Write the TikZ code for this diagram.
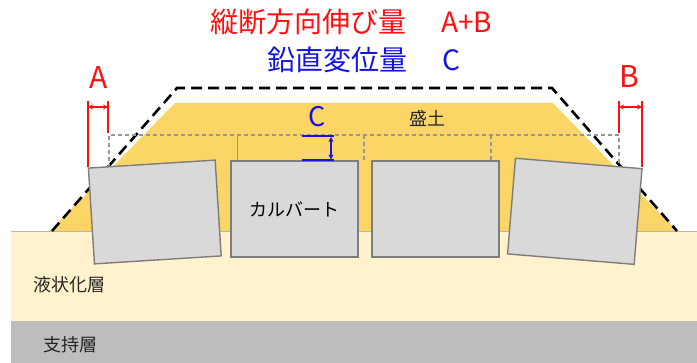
\documentclass[tikz,border=0pt]{standalone}
\usepackage{fontspec}
\setmainfont{Noto Sans CJK JP}
\usetikzlibrary{arrows.meta}
\definecolor{embankcol}{RGB}{251,213,102}
\definecolor{liqcol}{RGB}{255,242,205}
\definecolor{bearcol}{RGB}{189,189,189}
\definecolor{boxfill}{RGB}{217,217,217}
\definecolor{boxline}{RGB}{125,125,125}
\definecolor{dimred}{RGB}{255,16,16}
\definecolor{dimblue}{RGB}{20,20,225}
\definecolor{ghostcol}{RGB}{150,150,150}
\tikzset{
  culvert/.style={draw=boxline, fill=boxfill, line width=1.4pt, inner sep=0pt,
    minimum width=127pt, minimum height=96pt, font=\fontsize{18}{20}\selectfont},
  origline/.style={line width=2.6pt, dash pattern=on 11pt off 6pt},
  ghost/.style={draw=ghostcol, line width=1.1pt, dash pattern=on 4pt off 3pt},
  redline/.style={draw=dimred, line width=2pt},
  bluline/.style={draw=dimblue, line width=2pt},
  dimarrow/.style={line width=1.4pt, {Stealth[length=5pt,width=5pt]}-{Stealth[length=5pt,width=5pt]}},
  soiltext/.style={font=\fontsize{18}{20}\selectfont, text=black!85},
  bigletter/.style={font=\fontsize{30}{32}\selectfont, inner sep=0pt},
  titletext/.style={font=\fontsize{28}{30}\selectfont, inner sep=0pt, anchor=west}
}
\begin{document}
\begin{tikzpicture}[x=1pt, y=-1pt]
\useasboundingbox (0,0) rectangle (697,363);
\fill[white] (0,0) rectangle (697,363);

% ground layers
\fill[liqcol] (11,231) rectangle (697,321);
\draw[ghostcol!70, line width=0.7pt] (11,231) -- (697,231);
\fill[bearcol] (11,321) rectangle (697,363);

% embankment after settlement
\fill[embankcol] (50,231) -- (175,103) -- (553,103) -- (677,231) -- cycle;

% embankment profile before deformation
\draw[origline] (52,231) -- (177,88) -- (552,88) -- (677,231);

% culvert outline before deformation
\draw[ghost] (109,168) -- (109,135) -- (619,135) -- (619,164);
\draw[ghost] (364,135) -- (364,161);
\draw[ghost] (491,135) -- (491,161);
\draw[draw=ghostcol, line width=1pt] (237,135) -- (237,161);

% culverts after deformation
\node[culvert, rotate=3.6] (box1) at (154.8,212) {};
\node[culvert] (box2) at (294.5,209) {カルバート};
\node[culvert] (box3) at (435.5,209) {};
\node[culvert, rotate=-4.7] (box4) at (574.8,211.3) {};

% labels
\node[soiltext] (fill) at (427,118) {盛土};
\node[soiltext] (liq) at (70,285) {液状化層};
\node[soiltext] (bear) at (70,345) {支持層};

% longitudinal extension A
\coordinate (aL) at (88,101);
\coordinate (aLb) at (88,167);
\coordinate (aR) at (108,101);
\coordinate (aRb) at (108,133);
\draw[redline] (aL) -- (aLb);
\draw[redline] (aR) -- (aRb);
\coordinate (aA1) at (88,107);
\coordinate (aA2) at (108,107);
\draw[dimarrow, dimred] (aA1) -- (aA2);
\node[bigletter, text=dimred] (labA) at (99,78) {A};

% longitudinal extension B
\coordinate (bL) at (619,101);
\coordinate (bLb) at (619,133);
\coordinate (bR) at (642,101);
\coordinate (bRb) at (642,167);
\draw[redline] (bL) -- (bLb);
\draw[redline] (bR) -- (bRb);
\coordinate (bA1) at (619,107);
\coordinate (bA2) at (642,107);
\draw[dimarrow, dimred] (bA1) -- (bA2);
\node[bigletter, text=dimred] (labB) at (629,77) {B};

% vertical displacement C
\coordinate (cT1) at (302,136);
\coordinate (cT2) at (334,136);
\coordinate (cB1) at (302,160);
\coordinate (cB2) at (334,160);
\draw[bluline] (cT1) -- (cT2);
\draw[draw=dimblue, line width=1.2pt] (cB1) -- (cB2);
\coordinate (cA1) at (331,137);
\coordinate (cA2) at (331,159.5);
\draw[dimarrow, dimblue, line width=1.2pt] (cA1) -- (cA2);
\node[bigletter, text=dimblue, font=\fontsize{27}{30}\selectfont] (labC) at (317,117) {C};

% title lines
\node[titletext, text=dimred] (title1) at (210,22) {縦断方向伸び量\hspace{35pt}A+B};
\node[titletext, text=dimblue] (title2) at (267,60) {鉛直変位量\hspace{35pt}C};
\end{tikzpicture}
\end{document}
